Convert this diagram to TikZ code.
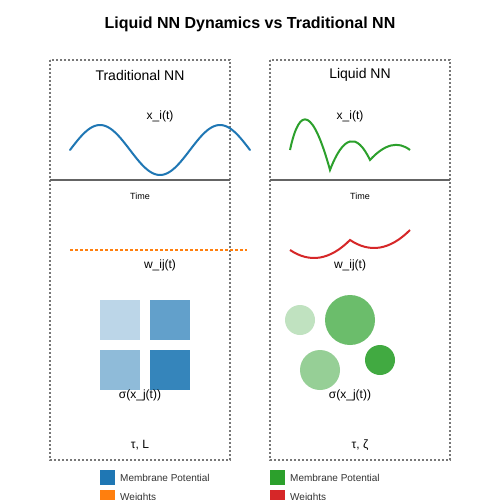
\documentclass[tikz,border=0pt]{standalone}
\usepackage{fontspec}
\setmainfont{Liberation Sans}
\definecolor{mblue}{RGB}{31,119,180}
\definecolor{morange}{RGB}{255,127,14}
\definecolor{mgreen}{RGB}{44,160,44}
\definecolor{mred}{RGB}{214,39,40}
\definecolor{boxgray}{RGB}{120,120,120}
\definecolor{axisgray}{RGB}{100,100,100}
\definecolor{legtext}{RGB}{51,51,51}
\begin{document}
\begin{tikzpicture}[x=1pt,y=-1pt,
  panel/.style={draw=boxgray,line width=1.5pt,dash pattern=on 2pt off 2pt},
  axisline/.style={draw=axisgray,line width=1.5pt},
  curve/.style={line width=2pt,line cap=round},
  lbl/.style={inner sep=0pt,font=\fontsize{12}{14}\selectfont},
  head/.style={inner sep=0pt,font=\fontsize{14}{17}\selectfont},
  small/.style={inner sep=0pt,font=\fontsize{9}{11}\selectfont},
  sq/.style={draw=none,inner sep=0pt,minimum size=40pt,anchor=north west},
  dot/.style={draw=none,circle,inner sep=0pt},
  legsq/.style={draw=none,inner sep=0pt,minimum size=15pt,anchor=north west},
  legtxt/.style={inner sep=0pt,anchor=west,text=legtext,font=\fontsize{10}{12}\selectfont}]
\clip (0,0) rectangle (500,500);
\fill[white] (0,0) rectangle (500,500);
% title
\node[inner sep=0pt,font=\bfseries\fontsize{16}{19}\selectfont] (title) at (250,24) {Liquid NN Dynamics vs Traditional NN};
% panels
\draw[panel] (50,60) rectangle (230,460);
\draw[panel] (270,60) rectangle (450,460);
\node[head] (lhead) at (140,75) {Traditional NN};
\node[head] (rhead) at (360,75) {Liquid NN};
% x_i(t)
\node[lbl] (lx) at (160,116) {x\_i(t)};
\node[lbl] (rx) at (350,116) {x\_i(t)};
\draw[curve,mblue] plot[domain=70:250,samples=90,smooth] (\x,{150-25*sin((\x-70)*3)});
\draw[curve,mgreen,line cap=butt] (290,150) .. controls (300,103.33) and (313.33,110) .. (330,170)
  .. controls (343.33,135.33) and (356.67,132) .. (370,160)
  .. controls (384.67,144) and (398,140.67) .. (410,150);
% axes
\draw[axisline] (50,180) -- (230,180);
\draw[axisline] (270,180) -- (450,180);
\node[small] (lt) at (140,196) {Time};
\node[small] (rt) at (360,196) {Time};
% weights
\draw[morange,line width=2pt,dash pattern=on 3.3pt off 1.7pt] (70,250) -- (247,250);
\draw[curve,mred,line cap=butt] (290,250) .. controls (310,263.33) and (330,260) .. (350,240)
  .. controls (370,253.33) and (390,250) .. (410,230);
\node[lbl] (lw) at (160,265) {w\_ij(t)};
\node[lbl] (rw) at (350,265) {w\_ij(t)};
% squares
\node[sq,fill=mblue!30!white] (s1) at (100,300) {};
\node[sq,fill=mblue!70!white] (s2) at (150,300) {};
\node[sq,fill=mblue!50!white] (s3) at (100,350) {};
\node[sq,fill=mblue!90!white] (s4) at (150,350) {};
% circles
\node[dot,fill=mgreen!30!white,minimum size=30pt] (c1) at (300,320) {};
\node[dot,fill=mgreen!70!white,minimum size=50pt] (c2) at (350,320) {};
\node[dot,fill=mgreen!50!white,minimum size=40pt] (c3) at (320,370) {};
\node[dot,fill=mgreen!90!white,minimum size=30pt] (c4) at (380,360) {};
\node[lbl] (ls) at (140,395) {σ(x\_j(t))};
\node[lbl] (rs) at (350,395) {σ(x\_j(t))};
\node[lbl] (lp) at (140,445) {τ, L};
\node[lbl] (rp) at (360,445) {τ, ζ};
% legend
\node[legsq,fill=mblue] (lg1) at (100,470) {};
\node[legtxt] (lg1t) at (120,478) {Membrane Potential};
\node[legsq,fill=morange] (lg2) at (100,490) {};
\node[legtxt] (lg2t) at (120,498) {Weights};
\node[legsq,fill=mgreen] (lg3) at (270,470) {};
\node[legtxt] (lg3t) at (290,478) {Membrane Potential};
\node[legsq,fill=mred] (lg4) at (270,490) {};
\node[legtxt] (lg4t) at (290,498) {Weights};
\end{tikzpicture}
\end{document}
